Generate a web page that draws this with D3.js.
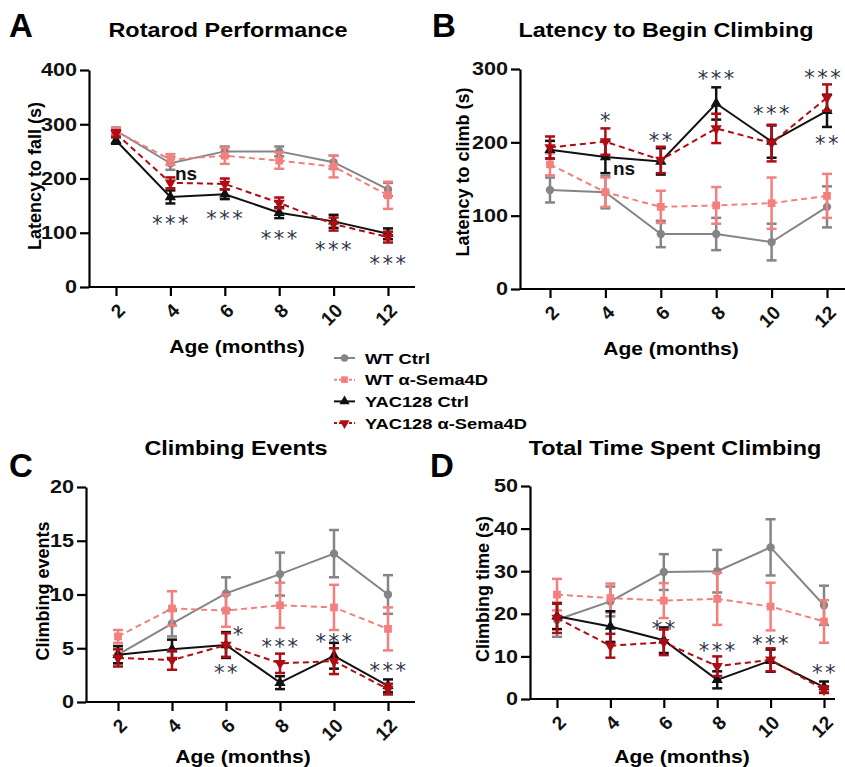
<!DOCTYPE html>
<html>
<head>
<meta charset="utf-8">
<script src="https://cdn.jsdelivr.net/npm/d3@7"></script>
<style>
  body { margin: 0; background: #fff; }
  text { font-family: "Liberation Sans", Arial, sans-serif; }
</style>
</head>
<body>
<div class="chart"></div>
<script>
let ages = [2, 4, 6, 8, 10, 12]
let groups = ["WT Ctrl", "WT α-Sema4D", "YAC128 Ctrl", "YAC128 α-Sema4D"]

// A: Rotarod (mean, sem) in group order
let rotarodMean = [
    [288, 228, 250, 250, 230, 180],
    [287, 235, 242, 233, 222, 169],
    [270, 166, 171, 137, 121, 98],
    [283, 192, 190, 155, 116, 92]
]
let rotarodSem = [
    [6, 12, 9, 9, 12, 12],
    [6, 10, 15, 15, 20, 25],
    [6, 12, 9, 10, 12, 10],
    [6, 10, 10, 10, 12, 10]
]
// B: latency to climb
let latencyMean = [
    [135, 132, 75, 75, 64, 112],
    [170, 132, 112, 114, 117, 127],
    [190, 180, 174, 253, 201, 243],
    [193, 201, 176, 219, 199, 261]
]
let latencySem = [
    [17, 22, 18, 22, 25, 28],
    [15, 20, 22, 25, 35, 30],
    [12, 22, 18, 22, 22, 22],
    [15, 18, 18, 20, 25, 18]
]
// C: climbing events
let eventsMean = [
    [4.4, 7.3, 10.1, 11.9, 13.8, 10.0],
    [6.1, 8.7, 8.5, 9.0, 8.8, 6.8],
    [4.4, 4.9, 5.3, 1.8, 4.3, 1.5],
    [4.1, 3.9, 5.3, 3.6, 3.8, 1.2]
]
let eventsSem = [
    [0.8, 1.2, 1.5, 2.0, 2.2, 1.8],
    [0.6, 1.6, 1.5, 2.1, 2.1, 2.0],
    [0.8, 0.9, 1.2, 0.6, 1.2, 0.6],
    [0.8, 0.9, 1.1, 0.9, 1.2, 0.5]
]
// D: total climbing time
let timeMean = [
    [18.6, 22.9, 29.8, 30.0, 35.6, 22.0],
    [24.5, 23.7, 23.1, 23.5, 21.7, 18.2],
    [19.4, 17.0, 13.8, 4.5, 9.0, 2.8],
    [19.0, 12.5, 13.3, 7.7, 9.2, 2.2]
]
let timeSem = [
    [4.0, 3.5, 4.2, 5.0, 6.6, 4.6],
    [3.7, 3.4, 4.1, 6.1, 5.6, 5.0],
    [3.0, 3.6, 3.0, 2.0, 2.6, 1.3],
    [3.5, 2.8, 3.0, 2.3, 2.7, 0.8]
]

// significance labels [age, value, text]
let rotarodMarks = [[4.17, 210, "ns"], [4, 127, "***"], [6, 136, "***"], [8, 100, "***"], [10, 79, "***"], [12, 53, "***"]]
let latencyMarks = [[4, 237, "*"], [4.27, 165, "ns"], [6, 210, "**"], [8, 294, "***"], [10, 247, "***"], [11.85, 296, "***"], [12, 206, "**"]]
let eventsMarks = [[6.45, 6.8, "*"], [6, 3.3, "**"], [8, 5.7, "***"], [10, 6.1, "***"], [12, 3.4, "***"]]
let timeMarks = [[6, 17.8, "**"], [8, 12.7, "***"], [10, 14.3, "***"], [12, 7.5, "**"]]

let colors = ["#858585", "#f47f7f", "#111111", "#b00c14"]
let dashes = [null, "6,4", null, "6,4"]
let shapes = [d3.symbolCircle, d3.symbolSquare, d3.symbolTriangle, d3.symbolTriangle]
let stretch = 1.17

let svg = d3.select(".chart")
    .append("svg")
    .attr("width", 845)
    .attr("height", 767)

function wideText(sel, x, y, size, str) {
    return sel.append("text")
        .attr("transform", `translate(${x},${y}) scale(${stretch},1)`)
        .attr("text-anchor", "middle")
        .attr("font-size", size)
        .attr("font-weight", "bold")
        .text(str)
}

function drawPanel(p) {
    let g = svg.append("g")

    let xScale = d3.scaleLinear()
        .domain([2, 12])
        .range([p.xFirst, p.xLast])
    let yScale = d3.scaleLinear()
        .domain([0, p.yMax])
        .range([p.bottom, p.top])

    // axes
    let yAxis = d3.axisLeft(yScale)
        .tickValues(p.yTicks)
        .tickSize(9)
        .tickSizeOuter(0)
        .tickPadding(3)
    let ya = g.append("g")
        .attr("transform", `translate(${p.left},0)`)
        .call(yAxis)
    ya.select(".domain").attr("stroke-width", 2.2)
    ya.selectAll(".tick line").attr("stroke-width", 2.2)
    ya.selectAll(".tick text")
        .attr("font-size", 18.5)
        .attr("font-weight", "bold")
        .attr("fill", "#111")
        .attr("transform", "translate(-12,0) scale(1.17,1)")
        .attr("x", 0)

    let xAxis = d3.axisBottom(xScale)
        .tickValues(ages)
        .tickSize(9)
        .tickSizeOuter(0)
    let xa = g.append("g")
        .attr("transform", `translate(0,${p.bottom})`)
        .call(xAxis)
    xa.select(".domain").remove()
    xa.append("line")
        .attr("x1", p.left)
        .attr("x2", p.right)
        .attr("stroke", "#000")
        .attr("stroke-width", 2.2)
    xa.selectAll(".tick line").attr("stroke-width", 2.2)
    xa.selectAll(".tick text")
        .attr("font-size", 19)
        .attr("font-weight", "bold")
        .attr("fill", "#111")
        .attr("text-anchor", "end")
        .attr("y", 0)
        .attr("dy", "0.35em")
        .attr("transform", "translate(5,20) rotate(-45)")

    // series
    p.mean.forEach((vals, i) => {
        let pts = ages.map((a, j) => ({age: a, v: vals[j], e: p.sem[i][j]}))
        let line = d3.line()
            .x(d => xScale(d.age))
            .y(d => yScale(d.v))
        g.append("path")
            .datum(pts)
            .attr("fill", "none")
            .attr("stroke", colors[i])
            .attr("stroke-width", 2)
            .attr("stroke-dasharray", dashes[i])
            .attr("d", line)

        let eb = g.append("g").selectAll("g")
            .data(pts)
            .enter()
            .append("g")
            .attr("stroke", colors[i])
            .attr("stroke-width", 2.5)
        eb.append("line")
            .attr("x1", d => xScale(d.age))
            .attr("x2", d => xScale(d.age))
            .attr("y1", d => yScale(d.v - d.e))
            .attr("y2", d => yScale(d.v + d.e))
        eb.append("line")
            .attr("x1", d => xScale(d.age) - 5)
            .attr("x2", d => xScale(d.age) + 5)
            .attr("y1", d => yScale(d.v - d.e))
            .attr("y2", d => yScale(d.v - d.e))
        eb.append("line")
            .attr("x1", d => xScale(d.age) - 5)
            .attr("x2", d => xScale(d.age) + 5)
            .attr("y1", d => yScale(d.v + d.e))
            .attr("y2", d => yScale(d.v + d.e))

        g.append("g").selectAll("path")
            .data(pts)
            .enter()
            .append("path")
            .attr("d", d3.symbol().type(shapes[i]).size(i == 1 ? 60 : 55))
            .attr("fill", colors[i])
            .attr("transform", d => `translate(${xScale(d.age)},${yScale(d.v)})` + (i == 3 ? " rotate(180)" : ""))
    })

    // significance marks
    let stars = p.marks.filter(d => d[2] != "ns")
    let ns = p.marks.filter(d => d[2] == "ns")
    g.append("g").selectAll("text")
        .data(stars)
        .enter()
        .append("text")
        .attr("x", d => xScale(d[0]) + 1)
        .attr("y", d => yScale(d[1]))
        .attr("dy", "0.62em")
        .attr("text-anchor", "middle")
        .attr("font-size", 21)
        .attr("letter-spacing", 2.5)
        .attr("fill", "#2d3447")
        .style("font-family", "DejaVu Sans")
        .text(d => d[2])
    g.append("g").selectAll("text")
        .data(ns)
        .enter()
        .append("text")
        .attr("x", d => xScale(d[0]))
        .attr("y", d => yScale(d[1]))
        .attr("dy", "0.35em")
        .attr("font-size", 19)
        .attr("font-weight", "bold")
        .attr("fill", "#111")
        .text(d => d[2])

    // labels
    wideText(g, p.titleX, p.titleY, 20, p.title)
    wideText(g, p.xLabelX, p.xLabelY, 18, "Age (months)")

    g.append("text")
        .attr("x", p.letterX)
        .attr("y", p.letterY)
        .attr("font-size", 33)
        .attr("font-weight", "bold")
        .text(p.letter)

    g.append("text")
        .attr("transform", `translate(${p.yLabelX},${p.yLabelY}) rotate(-90)`)
        .attr("text-anchor", "middle")
        .attr("font-size", 18)
        .attr("font-weight", "bold")
        .text(p.yLabel)
}

drawPanel({
    letter: "A", letterX: 9, letterY: 37,
    title: "Rotarod Performance", titleX: 228, titleY: 37,
    yLabel: "Latency to fall (s)", yLabelX: 41, yLabelY: 176,
    xLabelX: 237, xLabelY: 353,
    left: 89, right: 415, top: 70, bottom: 287, xFirst: 116, xLast: 388,
    yMax: 400, yTicks: [0, 100, 200, 300, 400],
    mean: rotarodMean, sem: rotarodSem, marks: rotarodMarks
})
drawPanel({
    letter: "B", letterX: 432, letterY: 37,
    title: "Latency to Begin Climbing", titleX: 666, titleY: 37,
    yLabel: "Latency to climb (s)", yLabelX: 469, yLabelY: 172,
    xLabelX: 671, xLabelY: 355,
    left: 520, right: 845, top: 69, bottom: 289, xFirst: 550, xLast: 827,
    yMax: 300, yTicks: [0, 100, 200, 300],
    mean: latencyMean, sem: latencySem, marks: latencyMarks
})
drawPanel({
    letter: "C", letterX: 9, letterY: 477,
    title: "Climbing Events", titleX: 236, titleY: 455,
    yLabel: "Climbing events", yLabelX: 49, yLabelY: 591,
    xLabelX: 243, xLabelY: 763,
    left: 86, right: 415, top: 487, bottom: 702, xFirst: 118, xLast: 388,
    yMax: 20, yTicks: [0, 5, 10, 15, 20],
    mean: eventsMean, sem: eventsSem, marks: eventsMarks
})
drawPanel({
    letter: "D", letterX: 430, letterY: 477,
    title: "Total Time Spent Climbing", titleX: 675, titleY: 455,
    yLabel: "Climbing time (s)", yLabelX: 489, yLabelY: 589,
    xLabelX: 682, xLabelY: 763,
    left: 530, right: 835, top: 486, bottom: 699, xFirst: 557, xLast: 824,
    yMax: 50, yTicks: [0, 10, 20, 30, 40, 50],
    mean: timeMean, sem: timeSem, marks: timeMarks
})

// legend
let legend = svg.append("g")
    .attr("class", "legend")
    .selectAll("g")
    .data(groups)
    .enter()
    .append("g")
    .attr("transform", (d, i) => `translate(334, ${358 + i * 21.7})`)
legend.append("line")
    .attr("x1", 0)
    .attr("x2", 21)
    .attr("stroke", (d, i) => colors[i])
    .attr("stroke-width", 2)
    .attr("stroke-dasharray", (d, i) => dashes[i] ? "3,2" : null)
legend.append("path")
    .attr("d", (d, i) => d3.symbol().type(shapes[i]).size(45)())
    .attr("fill", (d, i) => colors[i])
    .attr("transform", (d, i) => "translate(10.5,0)" + (i == 3 ? " rotate(180)" : ""))
legend.append("text")
    .attr("transform", "translate(31,0) scale(1.18,1)")
    .attr("dy", "0.36em")
    .attr("font-size", 15.5)
    .attr("font-weight", "bold")
    .text(d => d)
</script>
</body>
</html>
